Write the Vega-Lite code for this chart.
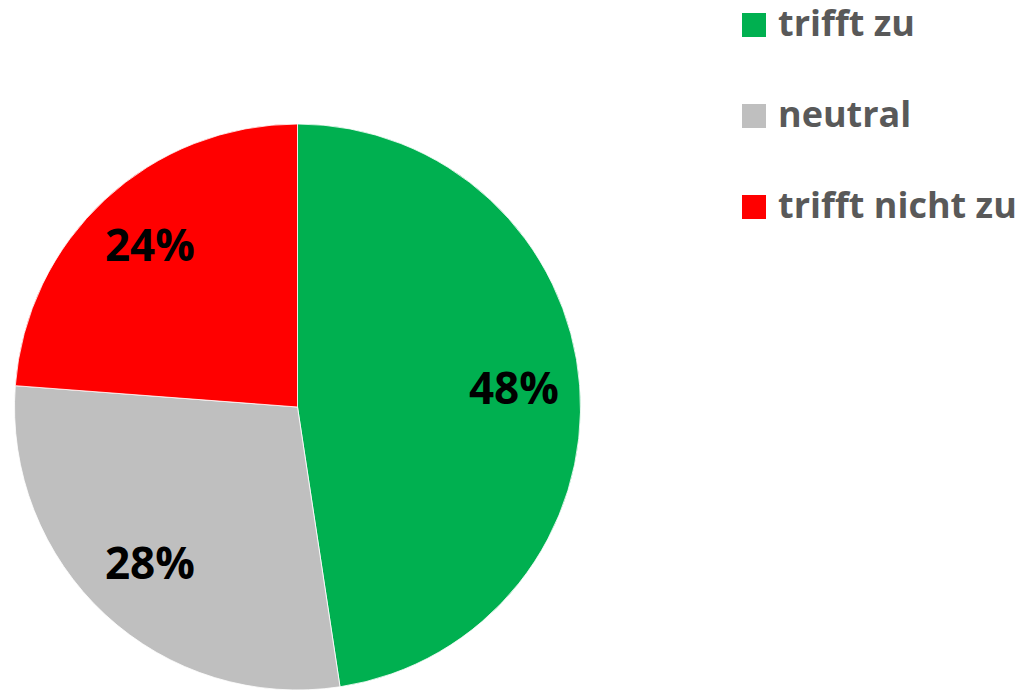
{
  "$schema": "https://vega.github.io/schema/vega-lite/v6.json",
  "width": 595,
  "height": 814,
  "padding": 0,
  "background": "white",
  "view": {"stroke": null},
  "data": {"values": [
    {"kategorie": "trifft zu", "anteil": 47.6, "label": "48%"},
    {"kategorie": "neutral", "anteil": 28.6, "label": "28%"},
    {"kategorie": "trifft nicht zu", "anteil": 23.8, "label": "24%"}
  ]},
  "encoding": {
    "theta": {"field": "anteil", "type": "quantitative", "stack": true},
    "order": {"field": "anteil", "type": "quantitative", "sort": "descending"}
  },
  "layer": [
    {
      "mark": {"type": "arc", "outerRadius": 283, "stroke": "white", "strokeWidth": 0.8},
      "encoding": {
        "color": {
          "field": "kategorie", "type": "nominal",
          "scale": {"domain": ["trifft zu", "neutral", "trifft nicht zu"], "range": ["#00B050", "#BFBFBF", "#FF0000"]},
          "legend": {
            "title": null,
            "orient": "none",
            "legendX": 736,
            "legendY": 7,
            "symbolType": "square",
            "symbolSize": 576,
            "symbolStrokeWidth": 0,
            "labelFont": "Open Sans",
            "labelFontWeight": "bold",
            "labelFontSize": 36,
            "labelColor": "#595959",
            "labelOffset": 6,
            "labelLimit": 400,
            "rowPadding": 55
          }
        }
      }
    },
    {
      "mark": {"type": "text", "radius": 217, "font": "Open Sans", "fontWeight": "bold", "fontSize": 44, "color": "black", "baseline": "middle", "align": "center"},
      "encoding": {"text": {"field": "label"}}
    }
  ]
}
